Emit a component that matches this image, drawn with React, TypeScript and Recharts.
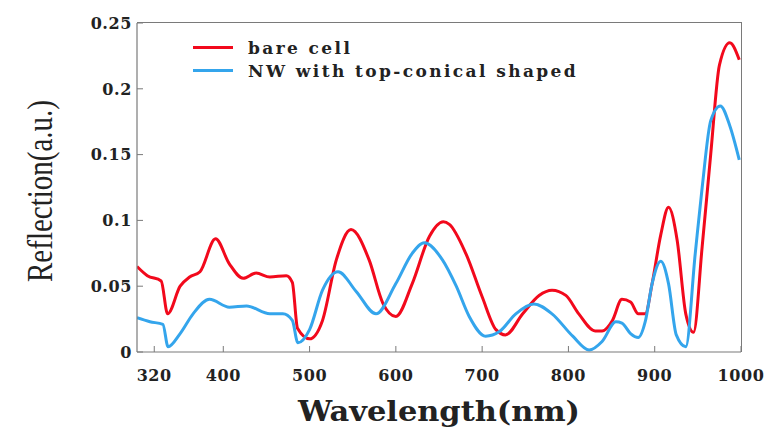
import React from "react";
import { LineChart, Line, XAxis, YAxis } from "recharts";

const redWavelength = [300, 312, 328, 335.5, 350, 361, 373, 391, 407, 423, 438, 454, 473, 480, 486, 500, 515, 531, 548, 569, 585, 600, 619, 639, 655, 662, 681, 700, 716, 727, 747, 766, 781, 797, 812, 831, 839, 851, 862, 872, 881, 889, 897, 907, 916, 926, 936, 945, 955, 965, 975, 987, 998];
const redReflection = [0.065, 0.058, 0.054, 0.029, 0.05, 0.057, 0.061, 0.086, 0.067, 0.056, 0.06, 0.057, 0.058, 0.053, 0.018, 0.01, 0.024, 0.07, 0.093, 0.07, 0.037, 0.027, 0.052, 0.088, 0.099, 0.097, 0.075, 0.042, 0.017, 0.013, 0.029, 0.043, 0.047, 0.043, 0.029, 0.016, 0.016, 0.024, 0.04, 0.038, 0.029, 0.029, 0.052, 0.089, 0.11, 0.085, 0.029, 0.015, 0.08, 0.151, 0.218, 0.235, 0.222];

const blueWavelength = [300, 315, 330, 336, 350, 365, 384, 407, 427, 454, 469, 480, 486.5, 500, 515, 533, 554, 577, 600, 619, 633, 654, 670, 685, 704, 720, 739, 760, 781, 805, 824, 839, 855, 862, 872, 881, 889, 897, 907, 916, 925, 936, 947, 955, 965, 976, 987, 998];
const blueReflection = [0.026, 0.023, 0.021, 0.004, 0.014, 0.029, 0.04, 0.034, 0.035, 0.029, 0.029, 0.024, 0.007, 0.017, 0.047, 0.061, 0.046, 0.029, 0.052, 0.075, 0.083, 0.07, 0.05, 0.027, 0.012, 0.0155, 0.029, 0.0365, 0.029, 0.012, 0.0015, 0.008, 0.023, 0.022, 0.014, 0.011, 0.023, 0.052, 0.069, 0.052, 0.013, 0.004, 0.075, 0.125, 0.176, 0.187, 0.172, 0.146];

const xTicks = [320, 400, 500, 600, 700, 800, 900, 1000];
const yTicks = [0, 0.05, 0.1, 0.15, 0.2, 0.25];
const yTickLabels = ["0", "0.05", "0.1", "0.15", "0.2", "0.25"];

const seriesNames = ["bare cell", "NW with top-conical shaped"];
const RED = "#f2091c";
const BLUE = "#34a5ec";
const AXIS = "#7a7a7a";

const redData = redWavelength.map((x, i) => ({ x, y: redReflection[i] }));
const blueData = blueWavelength.map((x, i) => ({ x, y: blueReflection[i] }));

const tickFont = {
  fontFamily: "'DejaVu Serif', serif",
  fontWeight: 700,
  fontSize: 16,
  fill: "#222",
  letterSpacing: 0.6,
};

const XTick = (props: any) => {
  const { x, y, payload } = props;
  return (
    <g>
      <line x1={x} y1={y} x2={x} y2={y - 6} stroke={AXIS} strokeWidth={1} />
      <text x={x} y={y + 29} textAnchor="middle" style={tickFont}>
        {payload.value}
      </text>
    </g>
  );
};

const YTick = (props: any) => {
  const { x, y, payload } = props;
  const idx = yTicks.indexOf(payload.value);
  return (
    <g>
      <line x1={x} y1={y} x2={x + 6} y2={y} stroke={AXIS} strokeWidth={1} />
      <text x={x - 5} y={y} dy="0.36em" textAnchor="end" style={tickFont}>
        {idx >= 0 ? yTickLabels[idx] : payload.value}
      </text>
    </g>
  );
};

const YLabel = () => (
  <text
    x={52}
    y={191}
    transform="rotate(-90 52 191)"
    textAnchor="middle"
    textLength={182}
    lengthAdjust="spacingAndGlyphs"
    style={{ fontFamily: "'Liberation Serif', serif", fontSize: 36, fill: "#222" }}
  >
    Reflection(a.u.)
  </text>
);

const XLabel = () => (
  <text
    x={439}
    y={421}
    textAnchor="middle"
    textLength={282}
    lengthAdjust="spacingAndGlyphs"
    style={{ fontFamily: "'DejaVu Serif', serif", fontWeight: 700, fontSize: 27, fill: "#222" }}
  >
    Wavelength(nm)
  </text>
);

const LegendBox = () => (
  <div
    style={{
      position: "absolute",
      left: 193,
      top: 36,
      fontFamily: "'DejaVu Serif', serif",
      fontWeight: 700,
      fontSize: 17,
      color: "#222",
      letterSpacing: 2.4,
    }}
  >
    {[RED, BLUE].map((c, i) => (
      <div key={i} style={{ display: "flex", alignItems: "center", height: 23 }}>
        <div style={{ width: 40, height: 3, background: c, marginRight: 15 }} />
        <span style={{ whiteSpace: "nowrap" }}>{seriesNames[i]}</span>
      </div>
    ))}
  </div>
);

export default function App() {
  return (
    <div style={{ position: "absolute", left: 0, top: 0, width: 770, height: 429, background: "#fff" }}>
      <LineChart width={770} height={429} margin={{ top: 23, right: 29, bottom: 47, left: 77 }}>
        <XAxis
          xAxisId="b"
          type="number"
          dataKey="x"
          domain={[300, 1000]}
          ticks={xTicks}
          interval={0}
          allowDataOverflow
          height={30}
          tickSize={0}
          tickMargin={0}
          tick={<XTick />}
          tickLine={false}
          axisLine={{ stroke: AXIS, strokeWidth: 1.2 }}
          label={<XLabel />}
        />
        <YAxis
          yAxisId="l"
          type="number"
          domain={[0, 0.25]}
          ticks={yTicks}
          interval={0}
          width={60}
          tickSize={0}
          tickMargin={0}
          tick={<YTick />}
          tickLine={false}
          axisLine={{ stroke: AXIS, strokeWidth: 1.2 }}
          label={<YLabel />}
        />
        <Line
          xAxisId="b"
          yAxisId="l"
          data={redData}
          dataKey="y"
          name={seriesNames[0]}
          type="monotone"
          stroke={RED}
          strokeWidth={3}
          dot={false}
          isAnimationActive={false}
        />
        <Line
          xAxisId="b"
          yAxisId="l"
          data={blueData}
          dataKey="y"
          name={seriesNames[1]}
          type="monotone"
          stroke={BLUE}
          strokeWidth={3}
          dot={false}
          isAnimationActive={false}
        />
      </LineChart>
      <div
        style={{
          position: "absolute",
          left: 137,
          top: 22,
          width: 605,
          height: 330,
          boxSizing: "border-box",
          borderTop: `1.5px solid ${AXIS}`,
          borderRight: `1.5px solid ${AXIS}`,
          pointerEvents: "none",
        }}
      />
      <LegendBox />
    </div>
  );
}
